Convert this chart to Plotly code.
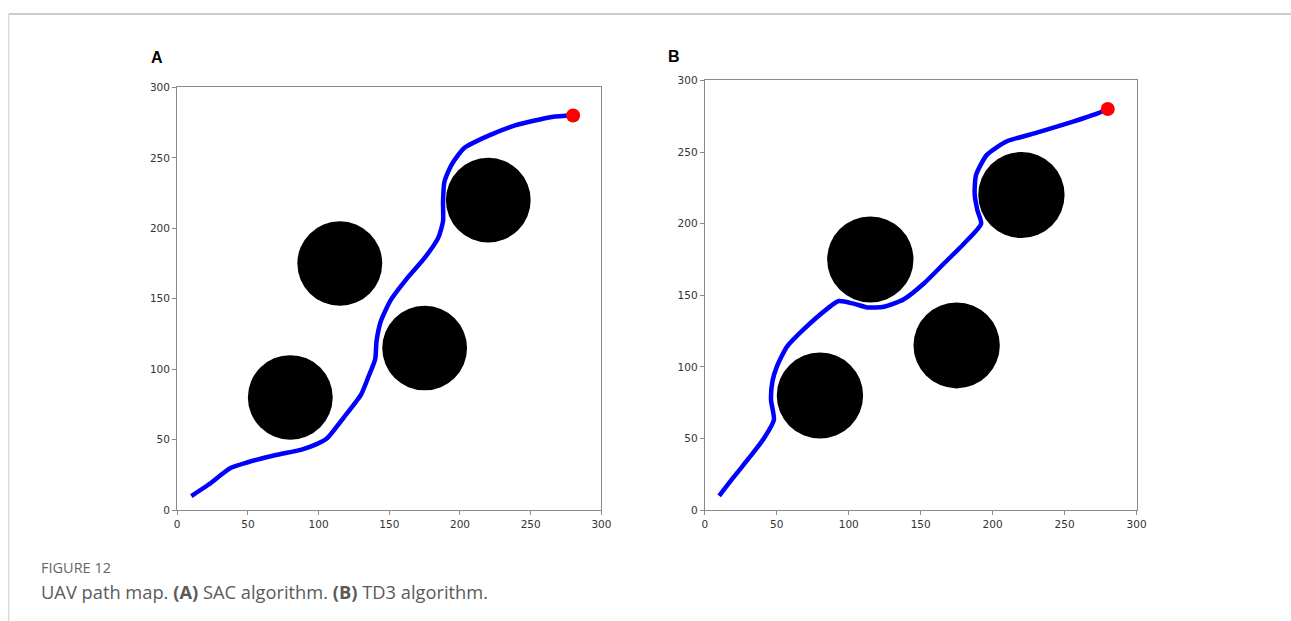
import plotly.graph_objects as go

# Obstacles (same in both panels)
obs_x = [80, 115, 175, 220]
obs_y = [80, 175, 115, 220]
obs_r = [30, 30, 30, 30]

# Goal point
goal_x = [280]
goal_y = [280]

# Path A (SAC)
path_a_x = [10, 22, 38, 50, 69, 88, 99, 106, 118, 130, 135, 140, 141, 144, 151, 163, 175, 184.5, 188, 188, 189, 194, 203, 222, 239, 265, 280]
path_a_y = [10, 18, 30, 34, 39, 43, 47, 51, 66, 82, 94, 107, 120, 134, 149, 165, 179, 193, 205, 219, 233, 245, 257, 266.5, 273, 279, 280]

# Path B (TD3)
path_b_x = [10, 20, 32, 41, 48, 46, 47, 50, 57, 69, 85, 93, 104, 113, 124.5, 138, 152, 166, 180, 192, 189.5, 187.5, 188.5, 196, 210, 229, 252, 273, 280]
path_b_y = [10, 23, 38, 50, 63, 77, 90, 100, 114, 126.5, 140.5, 146, 144, 141.5, 142, 147, 158, 172, 186, 200, 209, 221, 234, 248, 257.5, 263, 270, 277, 280]

tick_vals = [0, 50, 100, 150, 200, 250, 300]
tick_text = ["0", "50", "100", "150", "200", "250", "300"]

W, H = 1291, 621


def fx(px):
    # page pixel -> paper fraction (compensates the observed page fit)
    return ((px - 2.2) / 0.9906) / W


def fy(py):
    return 1 - ((py - 4.4) / 0.9835) / H


fig = go.Figure()

panels = [
    ("x", "y", path_a_x, path_a_y),
    ("x2", "y2", path_b_x, path_b_y),
]

shapes = []
for xa, ya, px, py in panels:
    fig.add_trace(go.Scatter(x=px, y=py, mode="lines", xaxis=xa, yaxis=ya,
                             line=dict(color="#0000ff", width=4.5, shape="spline", smoothing=0.6),
                             showlegend=False, hoverinfo="skip"))
    fig.add_trace(go.Scatter(x=goal_x, y=goal_y, mode="markers", xaxis=xa, yaxis=ya,
                             marker=dict(color="#ff0000", size=14, line=dict(width=0)),
                             showlegend=False, hoverinfo="skip"))
    for cx, cy, r in zip(obs_x, obs_y, obs_r):
        shapes.append(dict(type="circle", xref=xa, yref=ya, x0=cx - r, x1=cx + r,
                           y0=cy - r, y1=cy + r, fillcolor="black",
                           line=dict(width=0), layer="below"))

# page border lines
shapes.append(dict(type="line", xref="paper", yref="paper", x0=fx(8), x1=1.02, y0=fy(12.5), y1=fy(12.5),
                   line=dict(color="#cccccc", width=2)))
shapes.append(dict(type="line", xref="paper", yref="paper", x0=fx(8), x1=fx(8), y0=-0.02, y1=fy(12.5),
                   line=dict(color="#cccccc", width=1)))

axis_common = dict(range=[0, 300], tickvals=tick_vals, ticktext=tick_text, showgrid=False, zeroline=False,
                   showline=True, mirror=True, linecolor="#8a8a8a", linewidth=1.2, ticks="outside",
                   ticklen=4, tickcolor="#8a8a8a", tickfont=dict(family="DejaVu Sans", size=10.5, color="#333333"),
                   fixedrange=True)

fig.update_layout(
    width=W, height=H, margin=dict(l=0, r=0, t=0, b=0),
    paper_bgcolor="white", plot_bgcolor="white",
    xaxis=dict(domain=[fx(176.5), fx(601)], anchor="y", **axis_common),
    yaxis=dict(domain=[fy(510), fy(86)], anchor="x", **axis_common),
    xaxis2=dict(domain=[fx(704.5), fx(1136.5)], anchor="y2", **axis_common),
    yaxis2=dict(domain=[fy(510), fy(79)], anchor="x2", **axis_common),
    shapes=shapes,
    annotations=[
        dict(text="<b>A</b>", x=fx(148), y=fy(56), xref="paper", yref="paper", xanchor="left", yanchor="middle",
             showarrow=False, font=dict(family="Liberation Sans", size=16, color="black")),
        dict(text="<b>B</b>", x=fx(666), y=fy(55), xref="paper", yref="paper", xanchor="left", yanchor="middle",
             showarrow=False, font=dict(family="Liberation Sans", size=16, color="black")),
        dict(text="FIGURE 12", x=fx(38), y=fy(568), xref="paper", yref="paper", xanchor="left", yanchor="middle",
             showarrow=False, font=dict(family="Open Sans", size=14.5, color="#666666")),
        dict(text="UAV path map. <b>(A)</b> SAC algorithm. <b>(B)</b> TD3 algorithm.", x=fx(38), y=fy(592),
             xref="paper", yref="paper", xanchor="left", yanchor="middle",
             showarrow=False, font=dict(family="Open Sans", size=18.3, color="#5a5a5a")),
    ],
)

fig.write_html("out.html")
